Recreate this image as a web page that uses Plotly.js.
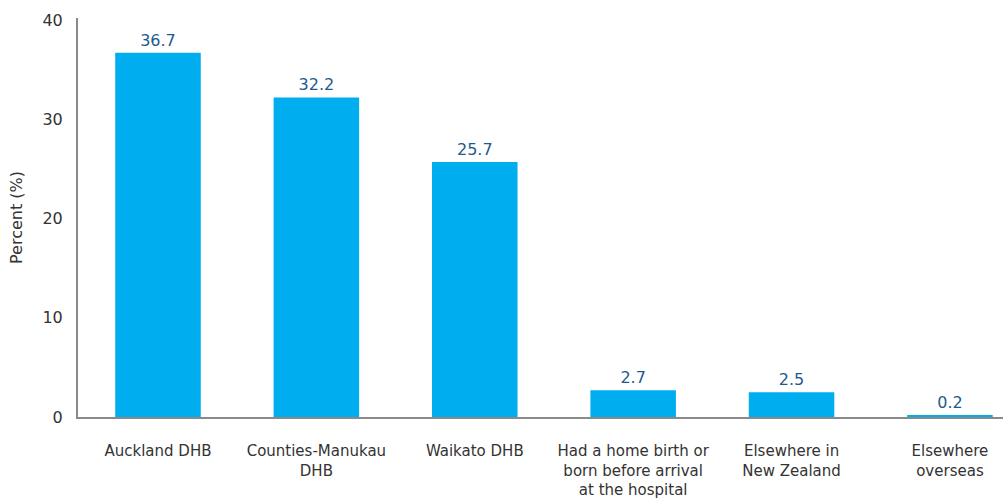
<!DOCTYPE html>
<html>
<head>
<meta charset="utf-8">
<script src="https://cdn.plot.ly/plotly-3.0.1.min.js"></script>
<style>html,body{margin:0;padding:0;background:#fff;}#chart{width:1003px;height:498px;}</style>
</head>
<body>
<div id="chart"></div>
<script>
const categories = [
  "Auckland DHB",
  "Counties-Manukau<br>DHB",
  "Waikato DHB",
  "Had a home birth or<br>born before arrival<br>at the hospital",
  "Elsewhere in<br>New Zealand",
  "Elsewhere<br>overseas"
];
const values = [36.7, 32.2, 25.7, 2.7, 2.5, 0.2];
const valueLabels = ["36.7", "32.2", "25.7", "2.7", "2.5", "0.2"];
const yTicks = [0, 10, 20, 30, 40];

const trace = {
  type: "bar",
  x: categories.map((c, i) => i),
  y: values,
  text: valueLabels,
  textposition: "outside",
  cliponaxis: false,
  textfont: {family: "DejaVu Sans, Verdana, sans-serif", size: 16, color: "#1F5A8C"},
  marker: {color: "#00AEEF"},
  width: 0.54,
  hoverinfo: "none"
};

const layout = {
  width: 1003, height: 498,
  margin: {l: 78, r: 0, t: 18, b: 81},
  paper_bgcolor: "#fff", plot_bgcolor: "#fff",
  showlegend: false,
  font: {family: "DejaVu Sans, Verdana, sans-serif", size: 16, color: "#333"},
  xaxis: {
    range: [-0.505, 5.335],
    tickmode: "array",
    tickvals: categories.map((c, i) => i),
    ticktext: categories,
    showgrid: false, zeroline: false,
    showline: true, linecolor: "#8a8a8a", linewidth: 2,
    ticks: "outside", ticklen: 19, tickcolor: "rgba(0,0,0,0)",
    tickfont: {size: 15, color: "#333"}
  },
  yaxis: {
    range: [0, 40.2],
    tickmode: "array",
    tickvals: yTicks,
    showgrid: false, zeroline: false,
    showline: true, linecolor: "#8a8a8a", linewidth: 2,
    ticks: "outside", ticklen: 10, tickcolor: "rgba(0,0,0,0)",
    tickfont: {size: 16, color: "#333"},
    title: {text: "Percent (%)", font: {size: 16, color: "#333"}, standoff: 16}
  }
};

Plotly.newPlot("chart", [trace], layout, {displayModeBar: false, staticPlot: true});
</script>
</body>
</html>
